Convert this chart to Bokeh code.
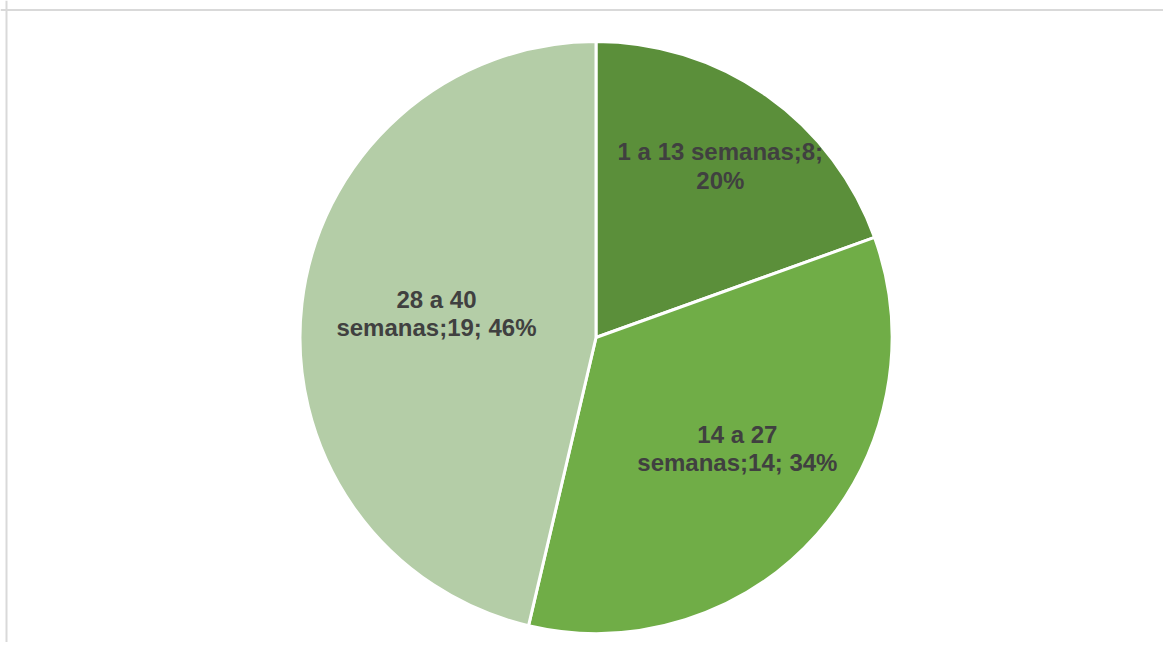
import math
import textwrap
from bokeh.plotting import figure
from bokeh.models import ColumnDataSource, Range1d, Span
from bokeh.core.properties import value
from bokeh.embed import file_html
from bokeh.resources import INLINE

# ---- data ----
categories = ["1 a 13 semanas", "14 a 27 semanas", "28 a 40 semanas"]
counts = [8, 14, 19]
colors = ["#5B8F3A", "#70AD47", "#B4CDA7"]

# ---- layout (pixels) ----
W, H = 1163, 642
CX, CY, R = 595.5, H - 337.0, 296.0
label_r = [0.716, 0.607, 0.545]
label_dang = [-0.8, 3.6, -2.0]

total = sum(counts)
starts, ends, lx, ly, labels = [], [], [], [], []
cum = 0
for i, (cat, v) in enumerate(zip(categories, counts)):
    a0 = 90 - cum / total * 360
    cum += v
    a1 = 90 - cum / total * 360
    starts.append(math.radians(a1))
    ends.append(math.radians(a0))
    mid = math.radians((a0 + a1) / 2 + label_dang[i])
    lx.append(CX + label_r[i] * R * math.cos(mid))
    ly.append(CY + label_r[i] * R * math.sin(mid))
    pct = round(v / total * 100)
    labels.append(textwrap.fill(f"{cat};{v}; {pct}%", width=17))

src = ColumnDataSource(dict(start=starts, end=ends, color=colors,
                            lx=lx, ly=ly, label=labels,
                            x=[CX] * len(counts), y=[CY] * len(counts)))

p = figure(width=W, height=H, output_backend="svg", toolbar_location=None,
           x_range=Range1d(0, W), y_range=Range1d(0, H),
           min_border=0, min_border_left=0, min_border_right=0,
           min_border_top=0, min_border_bottom=0)
p.axis.visible = False
p.grid.visible = False
p.outline_line_color = None
p.background_fill_color = "white"
p.border_fill_color = "white"

p.wedge(x="x", y="y", radius=R, start_angle="start", end_angle="end",
        fill_color="color", line_color="white", line_width=3, source=src)

p.text(x="lx", y="ly", text="label", source=src,
       text_font=value("Liberation Sans"), text_font_style="bold",
       text_font_size="24px", text_color="#404040",
       text_align="center", text_baseline="middle", text_line_height=1.05)

p.add_layout(Span(location=H - 9.5, dimension="width",
                  line_color="#D9D9D9", line_width=2))
p.add_layout(Span(location=6, dimension="height",
                  line_color="#D9D9D9", line_width=2))

open("out.html", "w").write(file_html(p, INLINE))
